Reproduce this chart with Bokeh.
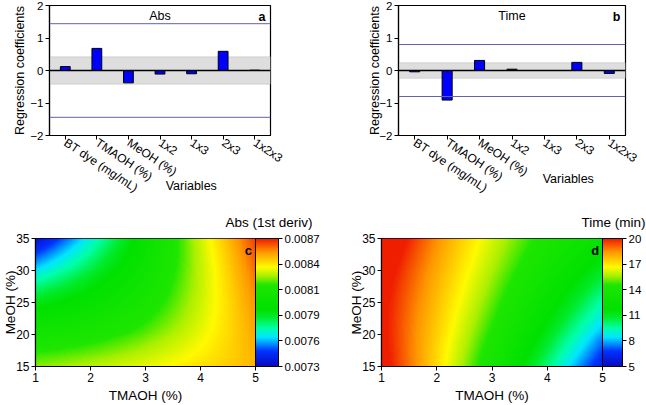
import numpy as np
from bokeh.plotting import figure
from bokeh.layouts import row, column
from bokeh.models import (FactorRange, Range1d, Label, Title, BoxAnnotation, Span,
                          LinearColorMapper, ColorBar, FixedTicker, PrintfTickFormatter)
from bokeh.embed import file_html
from bokeh.resources import INLINE

FONT = "Liberation Sans"
EM = "\u2003"   # em space, used to push a centred axis title sideways

# ---- regression coefficients (scaled & centred) ----
variables = ["BT dye (mg/mL)", "TMAOH (%)", "MeOH (%)", "1x2", "1x3", "2x3", "1x2x3"]
abs_coef = [0.12, 0.68, -0.38, -0.11, -0.10, 0.59, 0.01]
time_coef = [-0.04, -0.91, 0.31, 0.04, 0.0, 0.25, -0.09]
abs_band = 0.42      # confidence band
abs_limit = 1.44     # critical level
time_band = 0.24
time_limit = 0.80

# ---- response surfaces: polynomial model in coded units ----
# rows: power of coded TMAOH (0..2), columns: power of coded MeOH (0..2)
abs_model_e4 = [[81.40, -1.82, 0.42],
                [3.36, 2.70, 0.53],
                [0.84, -0.11, -0.74]]
time_model = [[15.08, 1.24, -0.15],
              [-5.40, 1.39, -0.41],
              [-0.19, 0.53, 0.34]]
tmaoh_ticks = [1, 2, 3, 4, 5]
meoh_ticks = [15, 20, 25, 30, 35]
abs_bar_ticks = [0.0073, 0.00758, 0.00786, 0.00814, 0.00842, 0.0087]
time_bar_ticks = [5, 8, 11, 14, 17, 20]

# rainbow colour scale (position, rgb)
scale_stops = [(0.00, (10, 10, 190)), (0.12, (0, 50, 255)), (0.23, (0, 230, 255)),
               (0.30, (0, 255, 170)), (0.39, (0, 235, 40)), (0.45, (0, 225, 0)),
               (0.64, (30, 230, 0)), (0.71, (170, 240, 0)), (0.78, (255, 250, 0)),
               (0.90, (255, 150, 0)), (1.00, (240, 30, 0))]


def build_palette(stops, n=256):
    pos = np.array([s[0] for s in stops])
    rgb = np.array([s[1] for s in stops], dtype=float)
    q = np.linspace(0, 1, n)
    chans = [np.interp(q, pos, rgb[:, k]) for k in range(3)]
    return ["#%02x%02x%02x" % tuple(int(round(c[i])) for c in chans) for i in range(n)]


PALETTE = build_palette(scale_stops)


def style_text(lbl, size, bold=False):
    lbl.text_font = FONT
    lbl.text_font_size = size
    lbl.text_font_style = "bold" if bold else "normal"
    lbl.text_color = "black"
    return lbl


def style_axis(ax, tick_size, label_size):
    ax.axis_line_color = "black"
    ax.axis_line_width = 1.2
    ax.major_tick_line_color = "black"
    ax.major_tick_in = 0
    ax.major_tick_out = 4
    ax.minor_tick_line_color = None
    ax.major_label_text_font = FONT
    ax.major_label_text_font_size = tick_size
    ax.major_label_text_color = "black"
    ax.axis_label_text_font = FONT
    ax.axis_label_text_font_size = label_size
    ax.axis_label_text_font_style = "normal"
    ax.axis_label_text_color = "black"


def coef_panel(values, band, limit, title, letter, left, right, ylab_standoff,
               var_shift, var_standoff):
    p = figure(x_range=FactorRange(*variables), y_range=Range1d(-2, 2),
               width=323, height=200, min_border_left=left, min_border_right=right,
               min_border_top=5, min_border_bottom=65,
               output_backend="svg", toolbar_location=None, tools="")
    p.grid.visible = False
    p.outline_line_color = "black"
    p.outline_line_width = 1.2

    p.add_layout(BoxAnnotation(bottom=-band, top=band, fill_color="#dedede", fill_alpha=1,
                               line_color="#9a9a9a", line_width=1, level="underlay"))
    for v in (limit, -limit):
        p.add_layout(Span(location=v, dimension="width", line_color="#6262b0", line_width=1))
    p.vbar(x=variables, top=values, bottom=0, width=0.31, fill_color="#0000ff",
           line_color="black", line_width=1)
    p.add_layout(Span(location=0, dimension="width", line_color="black", line_width=1.6))

    ya = p.yaxis[0]
    style_axis(ya, "11.5px", "12.5px")
    ya.ticker = FixedTicker(ticks=[-2, -1, 0, 1, 2])
    ya.major_label_overrides = {-1: "\u22121", -2: "\u22122"}
    ya.major_label_standoff = 2
    ya.axis_label = "Regression coefficients"
    ya.axis_label_standoff = ylab_standoff

    xa = p.xaxis[0]
    style_axis(xa, "12px", "12.5px")
    xa.major_label_orientation = -0.59
    xa.major_label_standoff = 2
    xa.axis_label = EM * var_shift + "Variables"
    xa.axis_label_standoff = var_standoff

    p.add_layout(style_text(Label(x=3.5, y=1.69, text=title, text_align="center",
                                  text_baseline="middle"), "12.5px"))
    p.add_layout(style_text(Label(x=6.84, y=1.66, text=letter, text_align="right",
                                  text_baseline="middle"), "12.5px", bold=True))
    return p


def surface_panel(model, scale, low, high, bar_ticks, fmt, title, title_offset, letter,
                  left, right, bar_width):
    nx, ny = 221, 130
    xs = np.linspace(1, 5, nx)
    ys = np.linspace(15, 35, ny)
    t = (xs - 3) / 2.0
    m = (ys - 25) / 10.0
    z = np.polynomial.polynomial.polygrid2d(t, m, np.array(model)) * scale
    z = np.clip(z.T, low, high)

    p = figure(x_range=Range1d(1, 5), y_range=Range1d(15, 35), width=323, height=205,
               min_border_left=left, min_border_right=right, min_border_top=38,
               min_border_bottom=38, output_backend="svg", toolbar_location=None, tools="")
    p.grid.visible = False
    p.outline_line_color = "black"
    p.outline_line_width = 1.2

    mapper = LinearColorMapper(palette=PALETTE, low=low, high=high)
    p.image(image=[z], x=1, y=15, dw=4, dh=20, color_mapper=mapper)

    cb = ColorBar(color_mapper=mapper, ticker=FixedTicker(ticks=bar_ticks),
                  formatter=PrintfTickFormatter(format=fmt), width=bar_width, padding=0,
                  margin=3, major_tick_in=0, major_tick_out=4, major_tick_line_color="black",
                  minor_tick_line_color=None, bar_line_color="black", bar_line_width=1,
                  label_standoff=2, major_label_text_font=FONT,
                  major_label_text_font_size="11.5px", major_label_text_color="black",
                  background_fill_alpha=0, border_line_color=None)
    p.add_layout(cb, "right")

    p.add_layout(Title(text=title, align="right", offset=title_offset, standoff=18,
                       text_font=FONT, text_font_size="13.5px", text_font_style="normal",
                       text_color="black"), "above")

    xa, ya = p.xaxis[0], p.yaxis[0]
    style_axis(xa, "12px", "13.5px")
    style_axis(ya, "12px", "13.5px")
    xa.ticker = FixedTicker(ticks=tmaoh_ticks)
    ya.ticker = FixedTicker(ticks=meoh_ticks)
    xa.major_label_standoff = 2
    ya.major_label_standoff = 2
    xa.axis_label = "TMAOH (%)"
    ya.axis_label = "MeOH (%)"
    xa.axis_label_standoff = 3
    ya.axis_label_standoff = -5

    p.add_layout(style_text(Label(x=4.87, y=33.2, text=letter, text_align="center",
                                  text_baseline="middle"), "13px", bold=True))
    return p


pa = coef_panel(abs_coef, abs_band, abs_limit, "Abs", "a", 49, 53, 0, 5, -25)
pb = coef_panel(time_coef, time_band, time_limit, "Time", "b", 75, 21, -6, 9, -32)
pc = surface_panel(abs_model_e4, 1e-4, 0.0073, 0.0087, abs_bar_ticks, "%.4f",
                   "Abs (1st deriv)", -57, "c", 35, 68, 23)
pd = surface_panel(time_model, 1.0, 5, 20, time_bar_ticks, "%d",
                   "Time (min)", -43, "d", 58, 44, 20)

layout = column(row(pa, pb), row(pc, pd))
open("out.html", "w").write(file_html(layout, INLINE))
